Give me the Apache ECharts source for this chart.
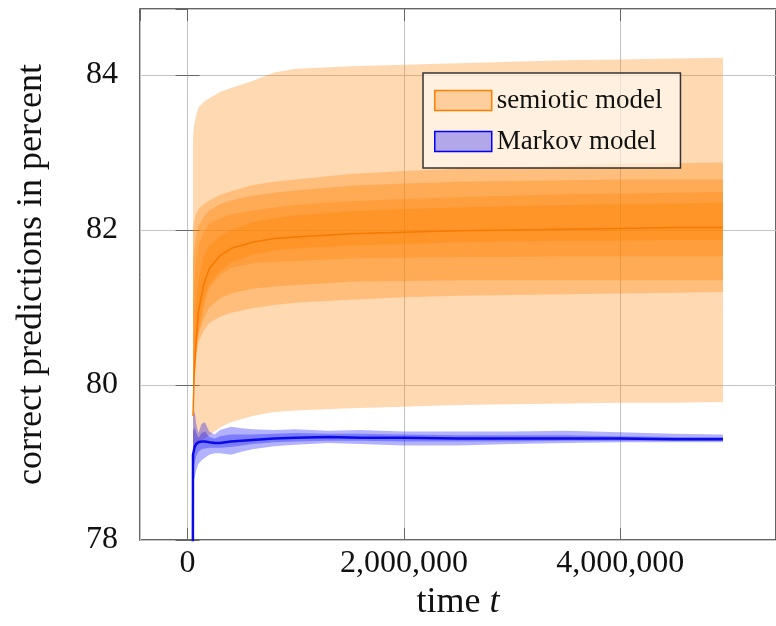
<!DOCTYPE html>
<html>
<head>
<meta charset="utf-8">
<script src="https://cdn.jsdelivr.net/npm/echarts@6/dist/echarts.min.js"></script>
<style>
  html, body { margin: 0; padding: 0; background: #fff; }
  #chart { width: 776px; height: 626px; }
</style>
</head>
<body>
<div id="chart"></div>
<script>
  // semiotic model: median and nested percentile bands
  const semiT = [50000, 60000, 75000, 100000, 150000, 200000, 300000, 400000, 600000, 800000, 1000000, 1500000, 2000000, 2500000, 3000000, 3500000, 4000000, 4500000, 4950000];
  const semiMedian = [79.6, 80.1, 80.5, 80.95, 81.3, 81.5, 81.67, 81.76, 81.84, 81.89, 81.91, 81.95, 81.97, 81.99, 82.0, 82.01, 82.02, 82.03, 82.03];
  const semiOuterHi = [83.2, 83.35, 83.45, 83.58, 83.65, 83.7, 83.78, 83.83, 83.92, 84.03, 84.08, 84.11, 84.13, 84.15, 84.17, 84.19, 84.2, 84.21, 84.22];
  const semiOuterLo = [79.1, 79.15, 79.2, 79.25, 79.3, 79.35, 79.45, 79.52, 79.6, 79.65, 79.67, 79.7, 79.72, 79.74, 79.75, 79.76, 79.77, 79.77, 79.78];
  const semiB2Hi = [82.0, 82.1, 82.2, 82.27, 82.33, 82.38, 82.45, 82.5, 82.58, 82.62, 82.65, 82.72, 82.76, 82.79, 82.81, 82.83, 82.85, 82.86, 82.87];
  const semiB2Lo = [79.7, 80.0, 80.3, 80.55, 80.7, 80.8, 80.88, 80.93, 80.99, 81.03, 81.06, 81.1, 81.13, 81.15, 81.16, 81.17, 81.18, 81.19, 81.2];
  const semiB3Hi = [81.6, 81.75, 81.9, 82.05, 82.17, 82.25, 82.33, 82.38, 82.44, 82.48, 82.51, 82.57, 82.6, 82.62, 82.63, 82.64, 82.65, 82.65, 82.65];
  const semiB3Lo = [79.8, 80.1, 80.4, 80.65, 80.85, 81.0, 81.12, 81.18, 81.24, 81.27, 81.29, 81.33, 81.34, 81.35, 81.35, 81.35, 81.35, 81.35, 81.35];
  const semiB4Hi = [81.0, 81.3, 81.55, 81.8, 81.97, 82.08, 82.15, 82.2, 82.25, 82.29, 82.32, 82.37, 82.4, 82.42, 82.44, 82.46, 82.47, 82.48, 82.49];
  const semiB4Lo = [79.7, 80.0, 80.3, 80.65, 81.0, 81.25, 81.42, 81.51, 81.57, 81.59, 81.6, 81.63, 81.64, 81.65, 81.65, 81.66, 81.66, 81.66, 81.66];
  const semiB5Hi = [80.2, 80.6, 81.0, 81.35, 81.65, 81.8, 81.92, 82.0, 82.1, 82.15, 82.19, 82.24, 82.27, 82.29, 82.31, 82.32, 82.33, 82.34, 82.35];
  const semiB5Lo = [79.55, 79.95, 80.3, 80.75, 81.1, 81.3, 81.47, 81.58, 81.68, 81.73, 81.76, 81.8, 81.82, 81.84, 81.85, 81.86, 81.86, 81.87, 81.87];

  // Markov model
  const markovT = [50000, 65000, 80000, 100000, 130000, 160000, 200000, 250000, 300000, 400000, 500000, 600000, 800000, 1000000, 1300000, 1600000, 2000000, 2500000, 3000000, 3500000, 4000000, 4500000, 4950000];
  const markovLineT = [48000, 50000, 65000, 80000, 100000, 130000, 160000, 200000, 250000, 300000, 400000, 500000, 600000, 800000, 1000000, 1300000, 1600000, 2000000, 2500000, 3000000, 3500000, 4000000, 4500000, 4950000];
  const markovLine = [77.0, 79.1, 79.2, 79.24, 79.26, 79.27, 79.27, 79.26, 79.25, 79.25, 79.27, 79.28, 79.29, 79.31, 79.32, 79.33, 79.32, 79.32, 79.31, 79.31, 79.31, 79.31, 79.3, 79.3];
  const markovOuterHi = [79.6, 79.66, 79.5, 79.38, 79.5, 79.52, 79.4, 79.36, 79.42, 79.46, 79.44, 79.43, 79.42, 79.43, 79.41, 79.42, 79.4, 79.4, 79.4, 79.41, 79.39, 79.37, 79.36];
  const markovOuterLo = [78.75, 78.8, 78.9, 78.98, 79.03, 79.06, 79.1, 79.12, 79.12, 79.1, 79.14, 79.17, 79.21, 79.23, 79.25, 79.24, 79.22, 79.22, 79.24, 79.25, 79.26, 79.26, 79.26];
  const markovMidHi = [79.4, 79.45, 79.38, 79.32, 79.38, 79.4, 79.33, 79.31, 79.34, 79.36, 79.36, 79.36, 79.37, 79.38, 79.37, 79.37, 79.36, 79.35, 79.35, 79.35, 79.34, 79.33, 79.33];
  const markovMidLo = [78.9, 79.0, 79.08, 79.14, 79.17, 79.18, 79.19, 79.19, 79.19, 79.2, 79.22, 79.24, 79.26, 79.27, 79.28, 79.28, 79.27, 79.27, 79.27, 79.28, 79.28, 79.28, 79.28];

  const xMin = -440000;
  const xMax = 5440000;
  const yMin = 78;
  const yMax = 84.85;

  const ORANGE = '#ff8000';
  const ORANGE_FILL = 'rgba(255,128,0,0.3)';
  const BLUE = '#0000ff';
  const BLUE_FILL = 'rgba(0,0,255,0.3)';
  const SERIF = '"Liberation Serif", "DejaVu Serif", serif';

  const fmtThousands = (v) => String(v).replace(/\B(?=(\d{3})+(?!\d))/g, ',');

  // filled band between lo and hi, drawn with the grid's own scales
  const band = (t, lo, hi, fill) => ({
    type: 'custom',
    silent: true,
    clip: true,
    data: [[t[0], lo[0]]],
    renderItem: (params, api) => {
      const pts = [];
      for (let i = 0; i < t.length; i++) pts.push(api.coord([t[i], hi[i]]));
      for (let i = t.length - 1; i >= 0; i--) pts.push(api.coord([t[i], lo[i]]));
      return { type: 'polygon', shape: { points: pts }, style: { fill: fill } };
    },
  });

  const chart = echarts.init(document.getElementById('chart'));

  const option = {
    animation: false,
    backgroundColor: '#fff',
    grid: {
      left: 140,
      top: 9,
      right: -1,
      bottom: 86,
      show: true,
      borderColor: '#333',
      borderWidth: 1.5,
      backgroundColor: 'transparent',
    },
    legend: {
      orient: 'vertical',
      left: 423,
      top: 73,
      padding: [14, 18, 13, 11],
      itemGap: 14,
      itemWidth: 57,
      itemHeight: 20,
      icon: 'rect',
      backgroundColor: 'rgba(255,255,255,0.6)',
      borderColor: '#333',
      borderWidth: 1.5,
      textStyle: { fontFamily: SERIF, fontSize: 27, color: '#111', lineHeight: 20 },
      data: [
        { name: 'semiotic model', itemStyle: { color: ORANGE_FILL, borderColor: ORANGE, borderWidth: 1.5 } },
        { name: 'Markov model', itemStyle: { color: BLUE_FILL, borderColor: BLUE, borderWidth: 1.5 } },
      ],
    },
    xAxis: [
      {
        type: 'value',
        min: xMin,
        max: xMax,
        splitNumber: 3,
        name: '{a|time }{b|t}',
        nameLocation: 'middle',
        nameGap: 42,
        nameTextStyle: {
          rich: {
            a: { fontFamily: SERIF, fontSize: 36, color: '#111' },
            b: { fontFamily: SERIF, fontSize: 36, color: '#111', fontStyle: 'italic' },
          },
        },
        axisLine: { show: false },
        axisTick: { inside: true, length: 12, lineStyle: { color: '#666' } },
        axisLabel: {
          fontFamily: SERIF,
          fontSize: 32,
          color: '#111',
          margin: 8,
          showMinLabel: false,
          showMaxLabel: false,
          formatter: fmtThousands,
        },
        splitLine: { show: true, lineStyle: { color: '#c4c4c4', width: 1 } },
      },
      {
        type: 'value',
        position: 'top',
        min: xMin,
        max: xMax,
        splitNumber: 3,
        axisLine: { show: false },
        axisTick: { inside: true, length: 12, lineStyle: { color: '#666' } },
        axisLabel: { show: false },
        splitLine: { show: false },
      },
    ],
    yAxis: [
      {
        type: 'value',
        min: yMin,
        max: yMax,
        interval: 2,
        name: 'correct predictions in percent',
        nameLocation: 'middle',
        nameGap: 90,
        nameTextStyle: { fontFamily: SERIF, fontSize: 36, color: '#111' },
        axisLine: { show: false },
        axisTick: { inside: true, length: 12, lineStyle: { color: '#666' } },
        axisLabel: {
          fontFamily: SERIF,
          fontSize: 32,
          color: '#111',
          margin: 22,
          showMaxLabel: false,
        },
        splitLine: { show: true, lineStyle: { color: '#c4c4c4', width: 1 } },
      },
      {
        type: 'value',
        position: 'right',
        min: yMin,
        max: yMax,
        interval: 2,
        axisLine: { show: false },
        axisTick: { inside: true, length: 12, lineStyle: { color: '#666' } },
        axisLabel: { show: false },
        splitLine: { show: false },
      },
    ],
    series: [
      band(semiT, semiOuterLo, semiOuterHi, ORANGE_FILL),
      band(semiT, semiB2Lo, semiB2Hi, ORANGE_FILL),
      band(semiT, semiB3Lo, semiB3Hi, ORANGE_FILL),
      band(semiT, semiB4Lo, semiB4Hi, ORANGE_FILL),
      band(semiT, semiB5Lo, semiB5Hi, ORANGE_FILL),
      {
        name: 'semiotic model',
        type: 'line',
        data: semiT.map((t, i) => [t, semiMedian[i]]),
        symbol: 'none',
        clip: true,
        lineStyle: { color: '#f57a00', width: 1.5 },
        itemStyle: { color: ORANGE },
      },
      band(markovT, markovOuterLo, markovOuterHi, BLUE_FILL),
      band(markovT, markovMidLo, markovMidHi, BLUE_FILL),
      {
        name: 'Markov model',
        type: 'line',
        data: markovLineT.map((t, i) => [t, markovLine[i]]),
        symbol: 'none',
        clip: true,
        lineStyle: { color: '#0a0ae6', width: 2.5 },
        itemStyle: { color: BLUE },
      },
    ],
  };

  chart.setOption(option);
</script>
</body>
</html>
